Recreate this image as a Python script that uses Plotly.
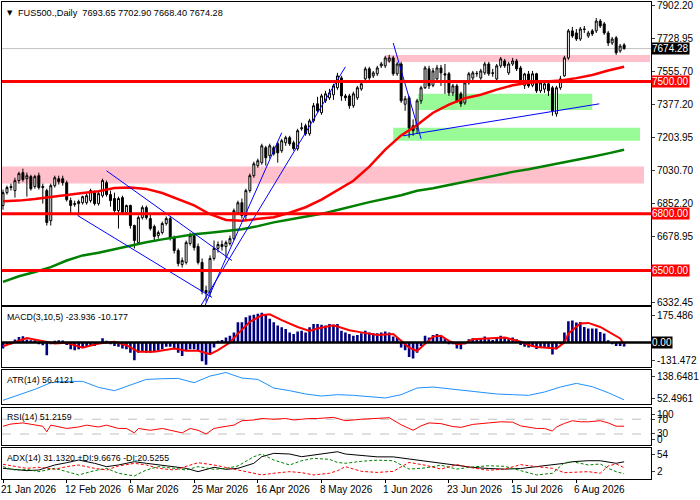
import plotly.graph_objects as go
from plotly.subplots import make_subplots

FONT = "Liberation Sans"

# daily OHLC, one value per bar
opens = [6844, 6912, 6939, 6923, 6976, 7018, 6986, 6997, 6944, 7002,
         6939, 6923, 6764, 6949, 6986, 6986, 6965, 6870, 6849, 6854,
         6859, 6859, 6870, 6912, 6854, 6896, 6965, 6902, 6881, 6817,
         6886, 6807, 6844, 6738, 6648, 6780, 6833, 6775, 6733, 6685,
         6701, 6749, 6775, 6675, 6606, 6532, 6543, 6643, 6685, 6627,
         6543, 6395, 6384, 6564, 6617, 6638, 6627, 6643, 6669, 6807,
         6859, 6791, 6923, 7002, 7055, 7071, 7150, 7108, 7150, 7171,
         7134, 7176, 7203, 7176, 7145, 7250, 7266, 7224, 7292, 7382,
         7335, 7398, 7414, 7430, 7467, 7519, 7424, 7424, 7372, 7414,
         7461, 7514, 7567, 7530, 7541, 7583, 7583, 7609, 7625, 7541,
         7593, 7380, 7414, 7266, 7250, 7398, 7467, 7567, 7480, 7514,
         7572, 7541, 7541, 7440, 7477, 7435, 7387, 7493, 7519, 7541,
         7519, 7546, 7593, 7546, 7514, 7583, 7609, 7546, 7593, 7609,
         7572, 7480, 7540, 7480, 7541, 7451, 7460, 7488, 7467, 7329,
         7467, 7530, 7625, 7768, 7757, 7725, 7778, 7741, 7768, 7768,
         7820, 7805, 7757, 7704, 7731, 7662, 7693.65]
highs = [6928, 6949, 6960, 6991, 7023, 7039, 7018, 7007, 7007, 7018,
         6960, 6933, 6960, 7002, 7002, 7002, 6976, 6886, 6870, 6875,
         6896, 6907, 6933, 6923, 6918, 6986, 6976, 6923, 6912, 6891,
         6896, 6849, 6849, 6743, 6791, 6844, 6844, 6796, 6743, 6712,
         6759, 6786, 6786, 6685, 6617, 6569, 6659, 6701, 6696, 6643,
         6564, 6420, 6580, 6659, 6654, 6659, 6659, 6685, 6828, 6870,
         6881, 6933, 7013, 7076, 7092, 7171, 7160, 7171, 7160, 7182,
         7197, 7213, 7213, 7187, 7250, 7282, 7277, 7303, 7387, 7419,
         7435, 7451, 7461, 7488, 7546, 7530, 7435, 7435, 7446, 7477,
         7504, 7578, 7578, 7556, 7583, 7604, 7636, 7641, 7636, 7604,
         7604, 7424, 7424, 7300, 7409, 7477, 7583, 7583, 7572, 7588,
         7588, 7593, 7551, 7488, 7488, 7446, 7504, 7551, 7556, 7556,
         7567, 7604, 7604, 7567, 7593, 7630, 7620, 7604, 7625, 7620,
         7583, 7546, 7556, 7556, 7546, 7504, 7504, 7504, 7477, 7477,
         7530, 7636, 7778, 7789, 7778, 7789, 7794, 7768, 7778, 7836,
         7831, 7815, 7768, 7736, 7741, 7699, 7702.90]
lows = [6822, 6902, 6923, 6886, 6960, 6970, 6891, 6923, 6933, 6928,
        6854, 6738, 6738, 6939, 6955, 6949, 6865, 6801, 6838, 6791,
        6849, 6849, 6859, 6844, 6844, 6886, 6891, 6838, 6807, 6722,
        6796, 6796, 6722, 6617, 6638, 6770, 6770, 6712, 6659, 6669,
        6691, 6738, 6659, 6590, 6522, 6516, 6532, 6632, 6606, 6532,
        6374, 6335, 6363, 6553, 6595, 6606, 6569, 6632, 6660, 6796,
        6775, 6764, 6912, 6991, 7044, 7060, 7055, 7092, 7108, 7071,
        7123, 7160, 7160, 7134, 7134, 7240, 7213, 7213, 7282, 7335,
        7324, 7387, 7403, 7403, 7456, 7398, 7398, 7356, 7361, 7403,
        7451, 7504, 7509, 7519, 7530, 7572, 7572, 7599, 7530, 7530,
        7387, 7345, 7203, 7213, 7224, 7382, 7461, 7461, 7470, 7504,
        7477, 7435, 7424, 7424, 7387, 7366, 7377, 7483, 7504, 7525,
        7509, 7535, 7530, 7525, 7504, 7572, 7572, 7535, 7583, 7556,
        7483, 7461, 7467, 7470, 7440, 7440, 7440, 7424, 7319, 7314,
        7456, 7525, 7615, 7731, 7715, 7715, 7757, 7731, 7741, 7757,
        7783, 7747, 7688, 7694, 7641, 7652, 7668.40]
closes = [6912, 6939, 6944, 6976, 7013, 6981, 7002, 6933, 6997, 6939,
          6944, 6754, 6949, 6991, 6970, 6965, 6875, 6844, 6854, 6865,
          6891, 6896, 6923, 6854, 6907, 6976, 6902, 6870, 6817, 6881,
          6807, 6844, 6738, 6659, 6780, 6833, 6780, 6722, 6680, 6701,
          6749, 6775, 6669, 6606, 6537, 6553, 6648, 6685, 6622, 6543,
          6390, 6384, 6564, 6617, 6638, 6627, 6648, 6669, 6817, 6859,
          6791, 6923, 7002, 7065, 7081, 7160, 7097, 7160, 7118, 7123,
          7187, 7203, 7171, 7145, 7240, 7255, 7224, 7292, 7372, 7345,
          7424, 7435, 7440, 7477, 7530, 7424, 7414, 7372, 7435, 7467,
          7488, 7567, 7519, 7546, 7572, 7593, 7625, 7625, 7541, 7593,
          7398, 7409, 7255, 7240, 7398, 7467, 7572, 7477, 7556, 7572,
          7546, 7535, 7440, 7477, 7398, 7382, 7493, 7541, 7546, 7543,
          7556, 7593, 7541, 7544, 7583, 7620, 7583, 7593, 7609, 7567,
          7493, 7540, 7477, 7541, 7451, 7493, 7488, 7451, 7345, 7467,
          7514, 7625, 7768, 7741, 7725, 7778, 7776, 7757, 7752, 7820,
          7794, 7757, 7704, 7725, 7652, 7688, 7674.28]
bars = list(range(len(closes)))

date_ticks = [0, 16, 32, 48, 64, 80, 96, 112, 128, 144]
date_labels = ["21 Jan 2026", "12 Feb 2026", "6 Mar 2026", "25 Mar 2026", "16 Apr 2026",
               "8 May 2026", "1 Jun 2026", "23 Jun 2026", "15 Jul 2026", "6 Aug 2026"]

price_ticks = [7902.20, 7728.95, 7555.70, 7377.20, 7203.95, 7030.70, 6852.20, 6678.95, 6332.45]

# moving averages read every 4 bars
ma_bars = list(range(0, 157, 4))
ma_red = [6867, 6870, 6878, 6890, 6902, 6910, 6920, 6937, 6939, 6932,
          6910, 6878, 6845, 6798, 6768, 6764, 6772, 6782, 6806, 6835,
          6875, 6925, 6975, 7050, 7140, 7215, 7270, 7335, 7378, 7412,
          7430, 7457, 7480, 7493, 7500, 7505, 7518, 7535, 7558, 7578]
ma_green = [6440, 6470, 6492, 6518, 6553, 6580, 6594, 6614, 6630, 6650,
            6665, 6678, 6692, 6700, 6708, 6718, 6735, 6755, 6770, 6785,
            6800, 6820, 6843, 6862, 6880, 6898, 6922, 6935, 6953, 6970,
            6990, 7006, 7022, 7036, 7052, 7068, 7086, 7102, 7120, 7139]

levels = [7500, 6800, 6500]
last_price = 7674.28

# zones: (bar from, bar to, price low, price high)
pink_zones = [(96, 162.5, 7604, 7641), (-1, 161, 6960, 7050)]
green_zones = [(104.25, 148, 7350, 7435), (98, 160, 7187, 7255)]

# trend lines: (bar0, bar1), (price0, price1)
trend_lines = [
    ((26.0, 57.5), (7028, 6553)),
    ((18.75, 52.5), (6791, 6358)),
    ((50.75, 70.0), (6316, 7229)),
    ((49.75, 86.0), (6316, 7578)),
    ((98.0, 105.0), (7704, 7197)),
    ((100.5, 149.75), (7213, 7382)),
]

macd_hist = [-35, -10, -10, 18, 33, 37, 18, 14, 14, -10,
             -16, -75, -10, 10, 14, 12, -15, -40, -45, -40,
             -30, -25, -15, -20, -10, 25, 10, -5, -20, -25,
             -35, -40, -60, -105, -60, -50, -60, -60, -55, -45,
             -40, -25, -25, -40, -60, -80, -50, -40, -40, -50,
             -110, -131.472, -70, -30, 10, 15, 30, 40, 60, 120,
             120, 150, 160, 165, 170, 175.486, 165, 140, 120, 100,
             90, 80, 60, 50, 65, 70, 60, 90, 110, 110,
             105, 100, 110, 105, 110, 70, 60, 50, 40, 45,
             55, 70, 60, 55, 55, 60, 65, 60, 35, 30,
             -30, -45, -85, -95, -60, -20, 40, 30, 45, 50,
             40, 25, -10, -10, -35, -40, -5, 20, 25, 20,
             25, 35, 20, 15, 25, 40, 30, 25, 30, 20,
             -15, -25, -30, -25, -38, -30, -28, -30, -71, -40,
             -5, 59, 126, 131, 118, 122, 92, 83, 83, 83,
             63, 53, 14, -5, -20, -20, -23.936]
sig_bars = [0, 6, 13, 16, 20, 24, 28, 31, 34, 38, 43, 46, 49, 52, 54, 57, 59, 62, 65, 67,
            70, 74, 77, 79, 83, 87, 90, 94, 98, 100, 102, 104, 106, 108, 110, 112, 114, 116,
            118, 122, 126, 130, 132, 134, 139, 141, 142, 145, 147, 150, 152, 155, 156]
sig_vals = [-22, 27, -6, -2, -31, -6, 4, -16, -55, -55, -35, -49, -49, -69, -45, 0, 53, 122, 161, 167,
            132, 92, 69, 83, 102, 73, 60, 45, 50, 10, -30, -50, -10, 35, 40, 10, -10, -5,
            20, 25, 30, 5, -15, -26, -35, 0, 53, 112, 116, 92, 63, 24, -10.177]

atr_bars = list(range(0, 157, 4))
atr_vals = [55, 72, 88, 108, 112, 112, 94, 84, 100, 118,
            120, 121, 108, 128, 138.65, 122, 118, 92, 84, 74,
            68, 72, 70, 66, 62, 72, 92, 95, 90, 84,
            80, 74, 72, 70, 80, 95, 106, 96, 78, 56.41]

rsi_bars = [0, 2, 5, 8, 10, 11, 12, 16, 19, 21, 24, 26, 29, 31, 33, 34, 37, 40, 42, 45,
            47, 49, 51, 53, 55, 58, 60, 63, 65, 68, 71, 73, 77, 79, 83, 86, 90, 94, 97, 100,
            103, 105, 107, 110, 113, 115, 118, 122, 125, 128, 130, 134, 136, 138, 139, 141,
            143, 145, 147, 150, 152, 154, 156]
rsi_vals = [51, 57, 60, 54, 51, 36, 54, 45, 49, 54, 49, 54, 45, 45, 33, 45, 40, 45, 40, 33,
            45, 40, 30, 45, 49, 54, 66, 68, 72, 70, 72, 68, 72, 72, 75, 66, 70, 72, 74, 55,
            40, 52, 60, 58, 50, 48, 56, 60, 63, 62, 52, 45, 45, 38, 49, 58.6,
            66, 63, 63, 66, 60, 51, 51.22]

adx_bars = [0, 3, 6, 9, 13, 16, 19, 23, 26, 29, 33, 36, 39, 43, 46, 49, 53, 56, 59, 63,
            65, 68, 72, 75, 78, 82, 84, 86, 90, 94, 98, 102, 106, 110, 114, 118, 122, 126,
            130, 134, 138, 141, 143, 147, 150, 152, 154, 156]
adx_vals = [19.4, 17.6, 15.2, 16.4, 25.4, 29.5, 34.3, 28.4, 22.4, 25.4,
            31.3, 28.4, 25.4, 22.4, 19.4, 13.4, 21.2, 17.6, 19.4, 28.4,
            40.3, 46.3, 45.1, 40.3, 43.3, 47.4, 49.2, 45.1, 42, 40,
            40, 36, 33, 28, 24, 21, 19, 18, 19, 22.4,
            25.4, 28.4, 31.3, 33.1, 33, 31.3, 28.4, 31.13]
plus_di = [22.4, 16.4, 17.6, 13.4, 19.4, 13.4, 7.5, 15.2, 19.4, 10.5,
           5.7, 16.4, 22.4, 19.4, 16.4, 22.4, 17.6, 19.4, 23.6, 40.3,
           45.1, 34.3, 25.4, 33.1, 37.3, 35.5, 30, 28.4, 32, 34,
           33, 18, 20, 25, 18, 22, 24, 23, 15, 7.5,
           10.5, 29.5, 31.3, 25.4, 27.2, 19.4, 13.4, 9.67]
minus_di = [26.6, 23.6, 19.4, 21.2, 17.6, 22.4, 25.4, 19.4, 16.4, 23.6,
            28.4, 25.4, 19.4, 16.4, 22.4, 29.5, 25.4, 21.2, 16.4, 11.6,
            7.5, 10.5, 13.4, 11.6, 7.5, 10.5, 15, 22.4, 14, 12,
            14, 30, 25, 18, 26, 20, 16, 18, 26, 22.4,
            19.4, 11.6, 12, 13.4, 10.5, 23.6, 27.2, 20.53]

fig = make_subplots(rows=5, cols=1, shared_xaxes=True, vertical_spacing=0.005)

# main panel
fig.add_trace(go.Candlestick(
    x=bars, open=opens, high=highs, low=lows, close=closes,
    increasing=dict(fillcolor='white', line=dict(color='black', width=1)),
    decreasing=dict(fillcolor='black', line=dict(color='black', width=1)),
    whiskerwidth=0, showlegend=False, hoverinfo='skip'), row=1, col=1)

fig.add_trace(go.Scatter(x=ma_bars, y=ma_red, mode='lines',
                         line=dict(color='#FF0000', width=2.5), showlegend=False), row=1, col=1)
fig.add_trace(go.Scatter(x=ma_bars, y=ma_green, mode='lines',
                         line=dict(color='#008000', width=2.5), showlegend=False), row=1, col=1)

for xs, ys in trend_lines:
    fig.add_trace(go.Scatter(x=list(xs), y=list(ys), mode='lines',
                             line=dict(color='#0000FF', width=1), showlegend=False), row=1, col=1)

for x0, x1, y0, y1 in pink_zones:
    fig.add_shape(type='rect', xref='x', yref='y', x0=x0, x1=x1, y0=y0, y1=y1,
                  fillcolor='#FFC0CB', line_width=0, layer='below')
for x0, x1, y0, y1 in green_zones:
    fig.add_shape(type='rect', xref='x', yref='y', x0=x0, x1=x1, y0=y0, y1=y1,
                  fillcolor='#98FB98', line_width=0, layer='below')

fig.add_shape(type='line', xref='paper', yref='y', x0=0, x1=1, y0=last_price, y1=last_price,
              line=dict(color='#C0C0C0', width=1), layer='below')
box_font = dict(family=FONT, size=10, color='white')
for lvl in levels:
    fig.add_shape(type='line', xref='paper', yref='y', x0=0, x1=1, y0=lvl, y1=lvl,
                  line=dict(color='#FF0000', width=3), layer='above')
    fig.add_annotation(xref='paper', x=1, xanchor='left', xshift=0, yref='y', y=lvl,
                       text=f"{lvl:.2f}", showarrow=False, bgcolor='#FF0000', borderpad=0,
                       font=box_font)
fig.add_annotation(xref='paper', x=1, xanchor='left', xshift=0, yref='y', y=last_price,
                   text=f"{last_price:.2f}", showarrow=False, bgcolor='black', borderpad=0,
                   font=box_font)

# MACD
fig.add_trace(go.Bar(x=bars, y=macd_hist, width=0.65, marker_color='#000080',
                     marker_line_width=0, showlegend=False), row=2, col=1)
fig.add_trace(go.Scatter(x=sig_bars, y=sig_vals, mode='lines',
                         line=dict(color='#FF0000', width=2), showlegend=False), row=2, col=1)
fig.add_shape(type='line', xref='paper', yref='y2', x0=0, x1=1, y0=0, y1=0,
              line=dict(color='black', width=2.5), layer='above')
fig.add_annotation(xref='paper', x=1, xanchor='left', xshift=0, yref='y2', y=0,
                   text="0.00", showarrow=False, bgcolor='black', borderpad=0,
                   font=box_font)

# ATR
fig.add_trace(go.Scatter(x=atr_bars, y=atr_vals, mode='lines',
                         line=dict(color='#1E90FF', width=1), showlegend=False), row=3, col=1)

# RSI
fig.add_trace(go.Scatter(x=rsi_bars, y=rsi_vals, mode='lines',
                         line=dict(color='#FF0000', width=1), showlegend=False), row=4, col=1)
for lvl in [70, 30]:
    fig.add_shape(type='line', xref='paper', yref='y4', x0=0, x1=1, y0=lvl, y1=lvl,
                  line=dict(color='#C0C0C0', width=1, dash='dash'), layer='below')

# ADX
fig.add_trace(go.Scatter(x=adx_bars, y=adx_vals, mode='lines',
                         line=dict(color='black', width=1), showlegend=False), row=5, col=1)
fig.add_trace(go.Scatter(x=adx_bars, y=plus_di, mode='lines',
                         line=dict(color='#008000', width=1, dash='3px,2px'), showlegend=False), row=5, col=1)
fig.add_trace(go.Scatter(x=adx_bars, y=minus_di, mode='lines',
                         line=dict(color='#FF0000', width=1, dash='3px,2px'), showlegend=False), row=5, col=1)

# panel titles
titles = [
    (1.0, 4, 9.2, "FUS500.,Daily  7693.65 7702.90 7668.40 7674.28"),
    (0.3612, 3, 8.8, "MACD(3,10,5) -23.936 -10.177"),
    (0.2296, 3, 8.8, "ATR(14) 56.4121"),
    (0.1503, 2, 8.8, "RSI(14) 51.2159"),
    (0.0668, 3, 8.8, "ADX(14) 31.1320 +DI:9.6676 -DI:20.5255"),
]
for i, (ytop, pad, size, txt) in enumerate(titles):
    fig.add_annotation(xref='paper', x=0, xanchor='left', xshift=14 if i == 0 else 3,
                       yref='paper', y=ytop, yanchor='top', yshift=-pad,
                       text=txt, showarrow=False,
                       font=dict(family=FONT, size=size, color='black'))
fig.add_annotation(xref='paper', x=0, xanchor='left', xshift=3, yref='paper', y=1.0,
                   yanchor='top', yshift=-5, text="▼", showarrow=False,
                   font=dict(family="DejaVu Sans", size=7, color='black'))

for pos, lab in zip(date_ticks, date_labels):
    fig.add_annotation(xref='x5', x=pos, xanchor='left', xshift=-4, yref='paper', y=0,
                       yanchor='middle', yshift=-9, text=lab, showarrow=False,
                       font=dict(family=FONT, size=10, color='black'))

axis_common = dict(showline=True, linecolor='black', linewidth=1, mirror=True,
                   showgrid=False, zeroline=False)
fig.update_xaxes(range=[-0.25, 162.75], showticklabels=False, ticks='',
                 rangeslider_visible=False, **axis_common)
fig.update_xaxes(ticks='outside', ticklen=3, tickcolor='black',
                 tickvals=date_ticks, row=5, col=1)

ytick_font = dict(family=FONT, size=10, color='black')
fig.update_layout(
    width=700, height=500,
    margin=dict(l=2, r=46, t=1, b=20),
    paper_bgcolor='white', plot_bgcolor='white',
    showlegend=False,
    yaxis=dict(domain=[0.3653, 1.0], range=[6315.7, 7920.8], side='right',
               tickvals=price_ticks, ticktext=[f"{v:.2f}" for v in price_ticks],
               ticks='outside', ticklen=3, tickfont=ytick_font, **axis_common),
    yaxis2=dict(domain=[0.2359, 0.3612], range=[-146, 208], side='right',
                tickvals=[160.8, -108.8], ticktext=['175.486', '-131.472'],
                ticks='outside', ticklen=3, tickfont=ytick_font, **axis_common),
    yaxis3=dict(domain=[0.1587, 0.2296], range=[43.5, 145.5], side='right',
                tickvals=[125.4, 59.4], ticktext=['138.6481', '52.4961'],
                ticks='outside', ticklen=3, tickfont=ytick_font, **axis_common),
    yaxis4=dict(domain=[0.0731, 0.1503], range=[0, 100], side='right',
                tickvals=[83.8, 70, 30, 16.2], ticktext=['100', '70', '30', '0'],
                ticks='outside', ticklen=3, tickfont=ytick_font, **axis_common),
    yaxis5=dict(domain=[0.0021, 0.0668], range=[0.2, 55.8], side='right',
                tickvals=[45.1, 12.8], ticktext=['54', '2'],
                ticks='outside', ticklen=3, tickfont=ytick_font, **axis_common),
)

# page body margin would shift the 700x500 figure, so drop it
fig.write_html("out.html", config={'displayModeBar': False},
               post_script="document.body.style.margin='0px';")
